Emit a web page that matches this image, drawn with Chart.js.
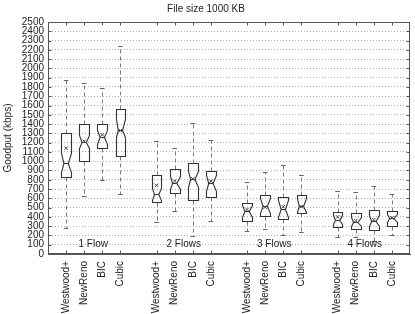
<!DOCTYPE html>
<html>
<head>
<meta charset="utf-8">
<script src="https://cdn.jsdelivr.net/npm/chart.js@4.4.1/dist/chart.umd.min.js"></script>
<style>
html,body{margin:0;padding:0;background:#fff;}
#wrap{width:415px;height:314px;}
</style>
</head>
<body>
<div id="wrap"><canvas id="c" width="415" height="314"></canvas></div>
<script>
// ---- data ----
const categories = ['Westwood+', 'NewReno', 'BIC', 'Cubic'];
const groups = ['1 Flow', '2 Flows', '3 Flows', '4 Flows'];
const positions = [1, 2, 3, 4, 6, 7, 8, 9, 11, 12, 13, 14, 16, 17, 18, 19];
const groupCenters = [2.5, 7.5, 12.5, 17.5];
const whiskerLow  = [280, 620, 800, 650,  340, 460, 190, 360,  250, 265, 200, 240,  180, 180, 140, 210];
const q1          = [835, 1005, 1140, 1060, 555, 660, 580, 610,  360, 410, 375, 440,  290, 268, 260, 300];
const median      = [985, 1210, 1260, 1340, 650, 765, 805, 765,  460, 515, 480, 515,  370, 350, 360, 390];
const q3          = [1300, 1400, 1400, 1560, 855, 920, 980, 890, 550, 640, 615, 635,  455, 445, 472, 462];
const whiskerHigh = [1880, 1840, 1790, 2240, 1220, 1145, 1415, 1230, 780, 880, 955, 855, 675, 670, 730, 650];
const mean        = [1140, 1215, 1285, 1330, 740, 785, 810, 785,  480, 505, 510, 510,  400, 360, 370, 390];
const notchLow    = [885, 1140, 1190, 1265, 585, 700, 720, 680,  400, 440, 400, 450,  320, 300, 300, 345];
const notchHigh   = [1085, 1280, 1335, 1460, 715, 840, 890, 850, 530, 600, 580, 600,  420, 400, 420, 430];
const yTicksStep = 100;

const FONT = "'Liberation Sans', Arial, Helvetica, sans-serif";

const boxPlugin = {
  id: 'notchedBoxes',
  beforeDatasetsDraw(chart) {
    const {ctx, scales: {x, y}} = chart;
    const hw = 0.27, waist = 0.12, cap = 0.13;
    ctx.save();
    positions.forEach((p, i) => {
      const xc = Math.round(x.getPixelForValue(p)) + 0.5;
      const xl = Math.round(x.getPixelForValue(p - hw)) + 0.5;
      const xr = Math.round(x.getPixelForValue(p + hw)) + 0.5;
      const wl = x.getPixelForValue(p - waist);
      const wr = x.getPixelForValue(p + waist);
      const cl = x.getPixelForValue(p - cap);
      const cr = x.getPixelForValue(p + cap);
      const Y = v => Math.round(y.getPixelForValue(v)) + 0.5;
      // whiskers
      ctx.lineWidth = 1;
      ctx.strokeStyle = '#7a7a7a';
      ctx.setLineDash([4, 3]);
      ctx.beginPath();
      ctx.moveTo(xc, Y(q3[i])); ctx.lineTo(xc, Y(whiskerHigh[i]));
      ctx.moveTo(xc, Y(q1[i])); ctx.lineTo(xc, Y(whiskerLow[i]));
      ctx.stroke();
      ctx.setLineDash([]);
      ctx.strokeStyle = '#666';
      ctx.beginPath();
      ctx.moveTo(cl, Y(whiskerHigh[i])); ctx.lineTo(cr, Y(whiskerHigh[i]));
      ctx.moveTo(cl, Y(whiskerLow[i])); ctx.lineTo(cr, Y(whiskerLow[i]));
      ctx.stroke();
      // notched box
      ctx.strokeStyle = '#333';
      ctx.lineWidth = 1.1;
      ctx.beginPath();
      ctx.moveTo(xl, Y(q3[i]));
      ctx.lineTo(xr, Y(q3[i]));
      ctx.lineTo(xr, Y(notchHigh[i]));
      ctx.lineTo(wr, Y(median[i]));
      ctx.lineTo(xr, Y(notchLow[i]));
      ctx.lineTo(xr, Y(q1[i]));
      ctx.lineTo(xl, Y(q1[i]));
      ctx.lineTo(xl, Y(notchLow[i]));
      ctx.lineTo(wl, Y(median[i]));
      ctx.lineTo(xl, Y(notchHigh[i]));
      ctx.closePath();
      ctx.stroke();
      ctx.beginPath();
      ctx.moveTo(wl, Y(median[i])); ctx.lineTo(wr, Y(median[i]));
      ctx.stroke();
    });
    // group labels
    ctx.fillStyle = '#222';
    ctx.font = '10px ' + FONT;
    ctx.textAlign = 'center';
    ctx.textBaseline = 'middle';
    groupCenters.forEach((g, i) => {
      ctx.fillText(groups[i], x.getPixelForValue(g), y.getPixelForValue(100));
    });
    ctx.restore();
  },
  afterDraw(chart) {
    const {ctx, chartArea: a, scales: {x, y}} = chart;
    ctx.save();
    ctx.strokeStyle = '#555';
    ctx.lineWidth = 1;
    const L = Math.round(a.left) + 0.5, R = Math.round(a.right) - 0.5;
    const T = Math.round(a.top) + 0.5, B = Math.round(a.bottom) - 0.5;
    ctx.strokeRect(L, T, R - L, B - T);
    ctx.beginPath();
    const tl = 3;
    for (let v = yTicksStep; v < 2500; v += yTicksStep) {
      const py = Math.round(y.getPixelForValue(v)) + 0.5;
      ctx.moveTo(L, py); ctx.lineTo(L + tl, py);
      ctx.moveTo(R, py); ctx.lineTo(R - tl, py);
    }
    positions.forEach(p => {
      const px = Math.round(x.getPixelForValue(p)) + 0.5;
      ctx.moveTo(px, B); ctx.lineTo(px, B - tl);
      ctx.moveTo(px, T); ctx.lineTo(px, T + tl);
    });
    ctx.stroke();
    ctx.restore();
  }
};

new Chart(document.getElementById('c'), {
  type: 'scatter',
  data: {
    datasets: [{
      label: 'mean',
      data: positions.map((p, i) => ({x: p, y: mean[i]})),
      pointStyle: 'crossRot',
      pointRadius: 2.5,
      pointBorderColor: '#444',
      pointBorderWidth: 1,
      pointBackgroundColor: '#444'
    }]
  },
  options: {
    responsive: false,
    animation: false,
    devicePixelRatio: 1,
    layout: {padding: {left: 0, right: 3, top: 0, bottom: 0}},
    plugins: {
      legend: {display: false},
      tooltip: {enabled: false},
      title: {
        display: true,
        text: 'File size 1000 KB',
        color: '#222',
        font: {family: FONT, size: 10, weight: 'normal'},
        padding: {top: 3, bottom: 7}
      }
    },
    scales: {
      x: {
        type: 'linear',
        min: 0,
        max: 20,
        afterBuildTicks: s => { s.ticks = positions.map(v => ({value: v})); },
        afterFit: s => { s.height = 60; },
        ticks: {
          autoSkip: false,
          minRotation: 90,
          maxRotation: 90,
          padding: 7,
          color: '#222',
          font: {family: FONT, size: 10},
          callback: (v, idx) => categories[idx % 4]
        },
        grid: {display: true, drawOnChartArea: false, drawTicks: false},
        border: {display: true, color: '#555'}
      },
      y: {
        min: 0,
        max: 2500,
        afterFit: s => { s.width = 48; },
        ticks: {
          stepSize: yTicksStep,
          autoSkip: false,
          padding: 4,
          color: '#222',
          font: {family: FONT, size: 10},
          callback: v => String(v)
        },
        grid: {
          drawTicks: false,
          color: ctx => (ctx.tick && (ctx.tick.value === 0 || ctx.tick.value === 2500)) ? 'rgba(0,0,0,0)' : '#b0b0b0',
          lineWidth: 1
        },
        border: {display: true, color: '#555', dash: [1, 2]},
        title: {
          display: true,
          text: 'Goodput (kbps)',
          color: '#222',
          font: {family: FONT, size: 10},
          padding: {top: 2, bottom: 0}
        }
      }
    }
  },
  plugins: [boxPlugin]
});
</script>
</body>
</html>
